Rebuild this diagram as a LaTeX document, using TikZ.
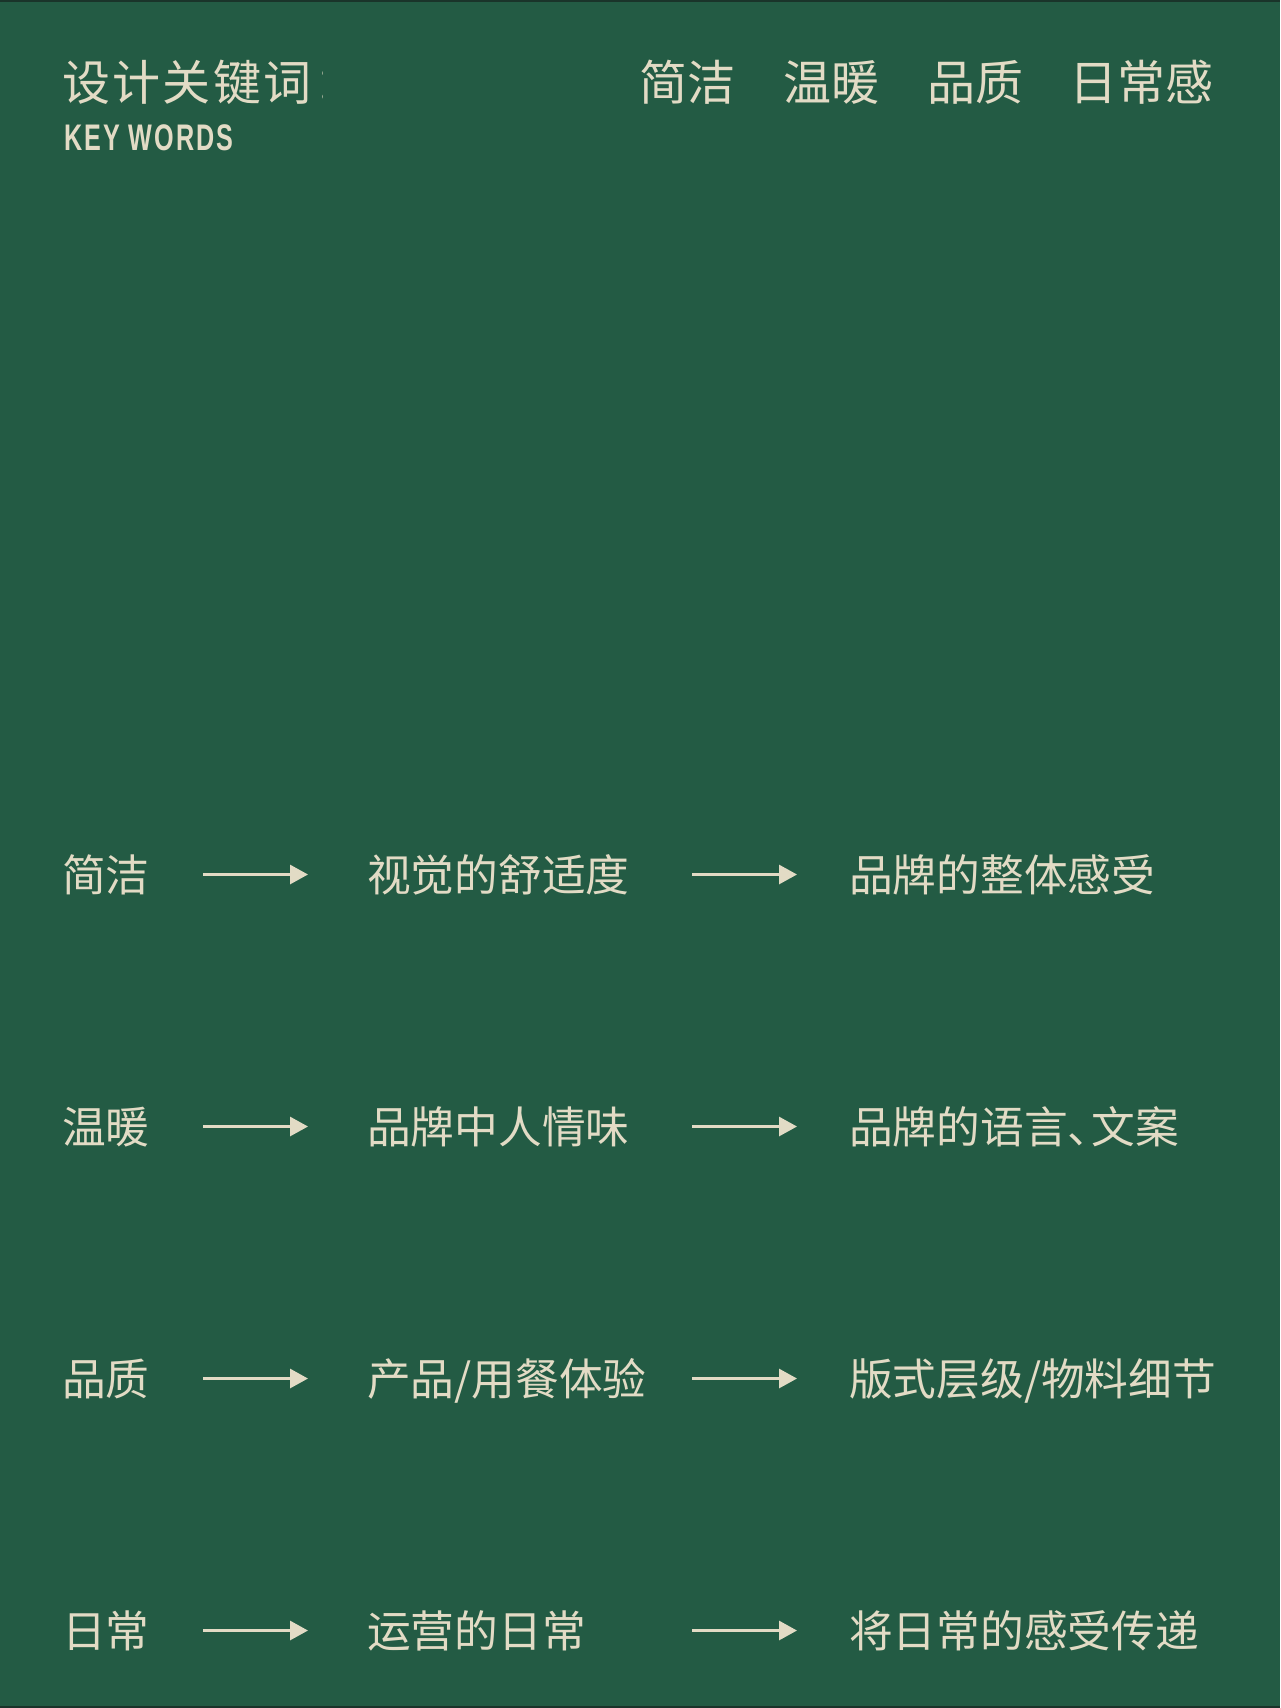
\documentclass[tikz,border=0pt]{standalone}
\usepackage{fontspec}
\usetikzlibrary{arrows.meta}
\newfontfamily\cjk{Noto Sans CJK SC}
\newfontfamily\cjkls[LetterSpace=5]{Noto Sans CJK SC}
\newfontfamily\kwfont[LetterSpace=8]{Liberation Sans}
\definecolor{bg}{RGB}{35,91,68}
\definecolor{cream}{RGB}{226,219,197}
\definecolor{edgec}{RGB}{26,52,42}
\tikzset{
  rowtxt/.style={text=cream, inner sep=0pt, anchor=base west, font=\cjk\fontsize{43.7}{48}\selectfont},
  toptxt/.style={text=cream, inner sep=0pt, anchor=base west, font=\cjk\fontsize{48}{52}\selectfont},
  arr/.style={draw=cream, line width=3pt, -{Triangle[length=18pt,width=19pt]}}
}
\begin{document}
\begin{tikzpicture}[x=1pt,y=-1pt]
\fill[bg] (0,0) rectangle (1280,1708);
\useasboundingbox (0,0) rectangle (1280,1708);
\draw[edgec, line width=2pt] (0,1) -- (1280,1);
\draw[edgec, line width=2pt] (0,1707) -- (1280,1707);

% heading
\begin{scope}
\clip (0,0) rectangle (322,130);
\node[toptxt, font=\cjkls\fontsize{48}{52}\selectfont] (title) at (62,100) {设计关键词：};
\end{scope}
\node[text=cream, inner sep=0pt, anchor=base west, xscale=0.68, font=\kwfont\bfseries\fontsize{37}{40}\selectfont] (kwen) at (64,150) {KEY WORDS};

\node[toptxt] (k1) at (639,100) {简洁};
\node[toptxt] (k2) at (783,100) {温暖};
\node[toptxt] (k3) at (927,100) {品质};
\node[toptxt] (k4) at (1069,100) {日常感};

% rows
\node[rowtxt] (a1) at (62,891) {简洁};
\node[rowtxt] (b1) at (367,891) {视觉的舒适度};
\node[rowtxt] (c1) at (849,891) {品牌的整体感受};
\node[rowtxt] (a2) at (62,1143) {温暖};
\node[rowtxt] (b2) at (367,1143) {品牌中人情味};
\node[rowtxt] (c2) at (849,1143) {品牌的语言、\kern-0.45em文案};
\node[rowtxt] (a3) at (62,1395) {品质};
\node[rowtxt] (b3) at (367,1395) {产品/用餐体验};
\node[rowtxt] (c3) at (849,1395) {版式层级/物料细节};
\node[rowtxt] (a4) at (62,1647) {日常};
\node[rowtxt] (b4) at (367,1647) {运营的日常};
\node[rowtxt] (c4) at (849,1647) {将日常的感受传递};

\foreach \r/\y in {1/874.5,2/1126.5,3/1378.5,4/1630.5}{
  \coordinate (p\r) at (203,\y);
  \coordinate (q\r) at (308,\y);
  \coordinate (s\r) at (692,\y);
  \coordinate (t\r) at (797,\y);
  \draw[arr] (p\r) -- (q\r);
  \draw[arr] (s\r) -- (t\r);
}
\end{tikzpicture}
\end{document}
